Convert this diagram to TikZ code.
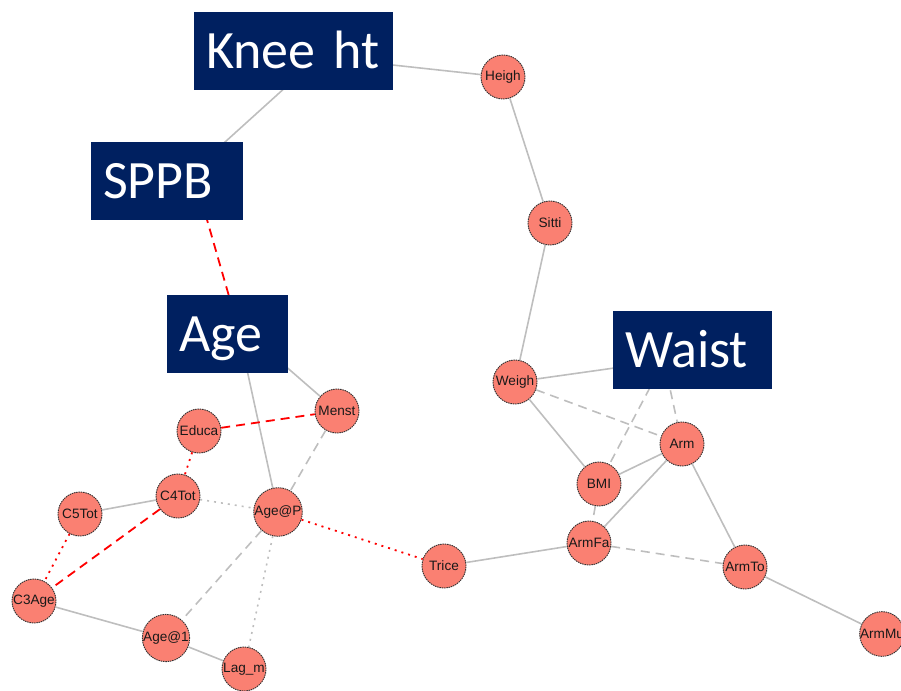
\documentclass[tikz,border=0pt]{standalone}
\usepackage{fontspec}
\setmainfont{Carlito}
\newfontfamily\arialf{Liberation Sans}
\definecolor{navy}{HTML}{002060}
\definecolor{salmon}{RGB}{250,128,114}
\definecolor{edgegray}{RGB}{190,190,190}
\begin{document}
\begin{tikzpicture}[x=1pt,y=-1pt,
  vnode/.style={circle,fill=salmon,draw=black!80,line width=0.9pt,dash pattern=on 1.5pt off 0.8pt,
    minimum size=44pt,inner sep=0pt,font=\arialf\fontsize{13.6}{14}\selectfont,text=black!90},
  boxnode/.style={fill=navy,draw=none,text=white,font=\fontsize{54}{60}\selectfont,
    minimum height=78pt,inner xsep=12pt,inner ysep=0pt,align=left,text height=35pt,text depth=0pt},
  gline/.style={draw=edgegray,line width=1.6pt},
  gdash/.style={gline,dash pattern=on 9pt off 6pt},
  gdot/.style={gline,dash pattern=on 2pt off 5pt},
  rdash/.style={draw=red,line width=1.8pt,dash pattern=on 9pt off 6pt},
  rdot/.style={draw=red,line width=1.8pt,dash pattern=on 2pt off 5pt}]
\useasboundingbox (0,0) rectangle (901,690);
% hidden positions under the boxes
\coordinate (kneeC) at (319,57);
\coordinate (sppbC) at (193,171);
\coordinate (ageC) at (237,324);
\coordinate (waistC) at (664,361);
% circle nodes
\node[vnode] (heigh) at (503,77) {Heigh};
\node[vnode] (sitti) at (550,223) {Sitti};
\node[vnode] (weigh) at (515,382) {Weigh};
\node[vnode] (arm) at (682,444) {Arm};
\node[vnode] (bmi) at (599,484) {BMI};
\node[vnode] (armfa) at (589,543) {ArmFa};
\node[vnode] (trice) at (444,566) {Trice};
\node[vnode] (armto) at (745,567) {ArmTo};
\node[vnode] (armmu) at (882,634) {ArmMu};
\node[vnode] (menst) at (337,411) {Menst};
\node[vnode] (educa) at (199,431) {Educa};
\node[vnode] (c4) at (178,496) {C4Tot};
\node[vnode] (c5) at (80,514) {C5Tot};
\node[vnode] (agep) at (278,512) {Age@P};
\node[vnode] (c3) at (34,601) {C3Age};
\node[vnode] (age1) at (166,638) {Age@1};
\node[vnode] (lag) at (244,669) {Lag\_m};
% edges
\draw[gline] (kneeC) -- (heigh);
\draw[gline] (kneeC) -- (sppbC);
\draw[rdash] (sppbC) -- (ageC);
\draw[gline] (heigh) -- (sitti);
\draw[gline] (sitti) -- (weigh);
\draw[gline] (weigh) -- (waistC);
\draw[gdash] (weigh) -- (arm);
\draw[gline] (weigh) -- (bmi);
\draw[gdash] (waistC) -- (bmi);
\draw[gdash] (waistC) -- (arm);
\draw[gline] (bmi) -- (arm);
\draw[gline] (armfa) -- (arm);
\draw[gdash] (bmi) -- (armfa);
\draw[gdash] (armfa) -- (armto);
\draw[gline] (arm) -- (armto);
\draw[gline] (armto) -- (armmu);
\draw[gline] (trice) -- (armfa);
\draw[rdot] (agep) -- (trice);
\draw[gline] (ageC) -- (menst);
\draw[gline] (ageC) -- (agep);
\draw[rdash] (educa) -- (menst);
\draw[gdash] (menst) -- (agep);
\draw[rdot] (educa) -- (c4);
\draw[gline] (c4) -- (c5);
\draw[gdot] (c4) -- (agep);
\draw[rdash] (c4) -- (c3);
\draw[rdot] (c5) -- (c3);
\draw[gline] (c3) -- (age1);
\draw[gline] (age1) -- (lag);
\draw[gdash] (agep) -- (age1);
\draw[gdot] (agep) -- (lag);
% boxes on top
\node[boxnode,text width=175pt] (knee) at (293.5,51.5) {Knee ht};
\node[boxnode,text width=128pt] (sppb) at (167,181) {SPPB};
\node[boxnode,text width=97pt] (age) at (227.5,333.5) {Age};
\node[boxnode,text width=135pt] (waist) at (692.5,349.5) {Waist};
\end{tikzpicture}
\end{document}
